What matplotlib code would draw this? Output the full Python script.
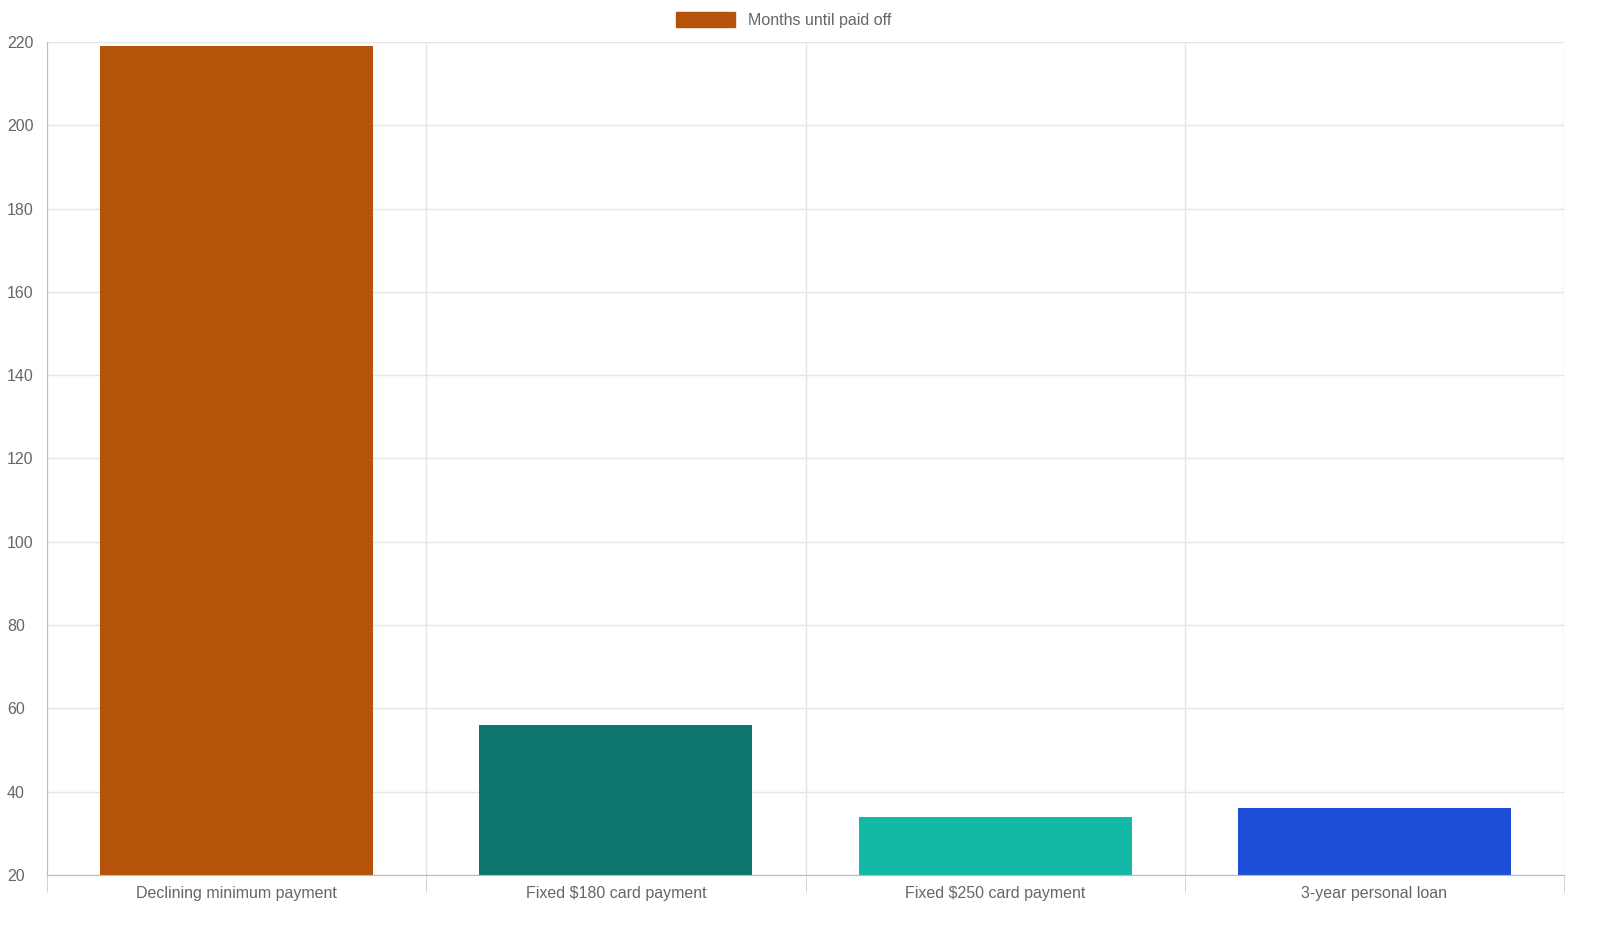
import matplotlib
matplotlib.use("Agg")
import matplotlib.pyplot as plt
from matplotlib.patches import Patch

categories = ["Declining minimum payment", "Fixed $180 card payment", "Fixed $250 card payment", "3-year personal loan"]
months = [219, 56, 34, 36]
colors = ["#B5530A", "#0F766E", "#14B8A6", "#1D4ED8"]
yticks = list(range(20, 221, 20))

plt.rcParams['font.family'] = ['Liberation Sans', 'DejaVu Sans']
fig = plt.figure(figsize=(16, 9.33), dpi=100)
ax = fig.add_axes([47/1600, 1-875/933, (1564-47)/1600, (875-42)/933])
x = list(range(len(categories)))
ax.bar(x, [m - 20 for m in months], bottom=20, width=0.72, color=colors, zorder=2)
ax.set_xlim(-0.5, len(categories) - 0.5)
ax.set_ylim(20, 220)
ax.set_yticks(yticks)
ax.set_yticklabels([str(v) for v in yticks], fontsize=11.5, color="#666666")
ax.set_xticks(x)
ax.set_xticklabels(categories, fontsize=11.5, color="#666666")
ax.tick_params(axis='x', length=0, pad=8)
ax.tick_params(axis='y', length=0, pad=14)
ax.set_xticks([i + 0.5 for i in range(-1, len(categories))], minor=True)
ax.tick_params(axis='x', which='minor', length=12, color="#CCCCCC")
ax.grid(axis='y', color="#E5E5E5", linewidth=1, zorder=0)
ax.grid(axis='x', which='minor', color="#E5E5E5", linewidth=1, zorder=0)
ax.grid(axis='x', which='major', visible=False)
for s in ['top', 'right']:
    ax.spines[s].set_visible(False)
ax.spines['left'].set_color("#BBBBBB")
ax.spines['bottom'].set_color("#BBBBBB")
for lbl in ax.get_yticklabels():
    lbl.set_horizontalalignment('left')
    lbl.set_x(-40/1517)
ax.yaxis.set_tick_params(pad=0)
fig.legend(handles=[Patch(color=colors[0], label="Months until paid off")], loc='center',
           bbox_to_anchor=(784/1600, 1-20/933), frameon=False, fontsize=11.5,
           handlelength=3.7, handleheight=1.1, labelcolor="#666666")
fig.savefig("out.png", dpi=100)
